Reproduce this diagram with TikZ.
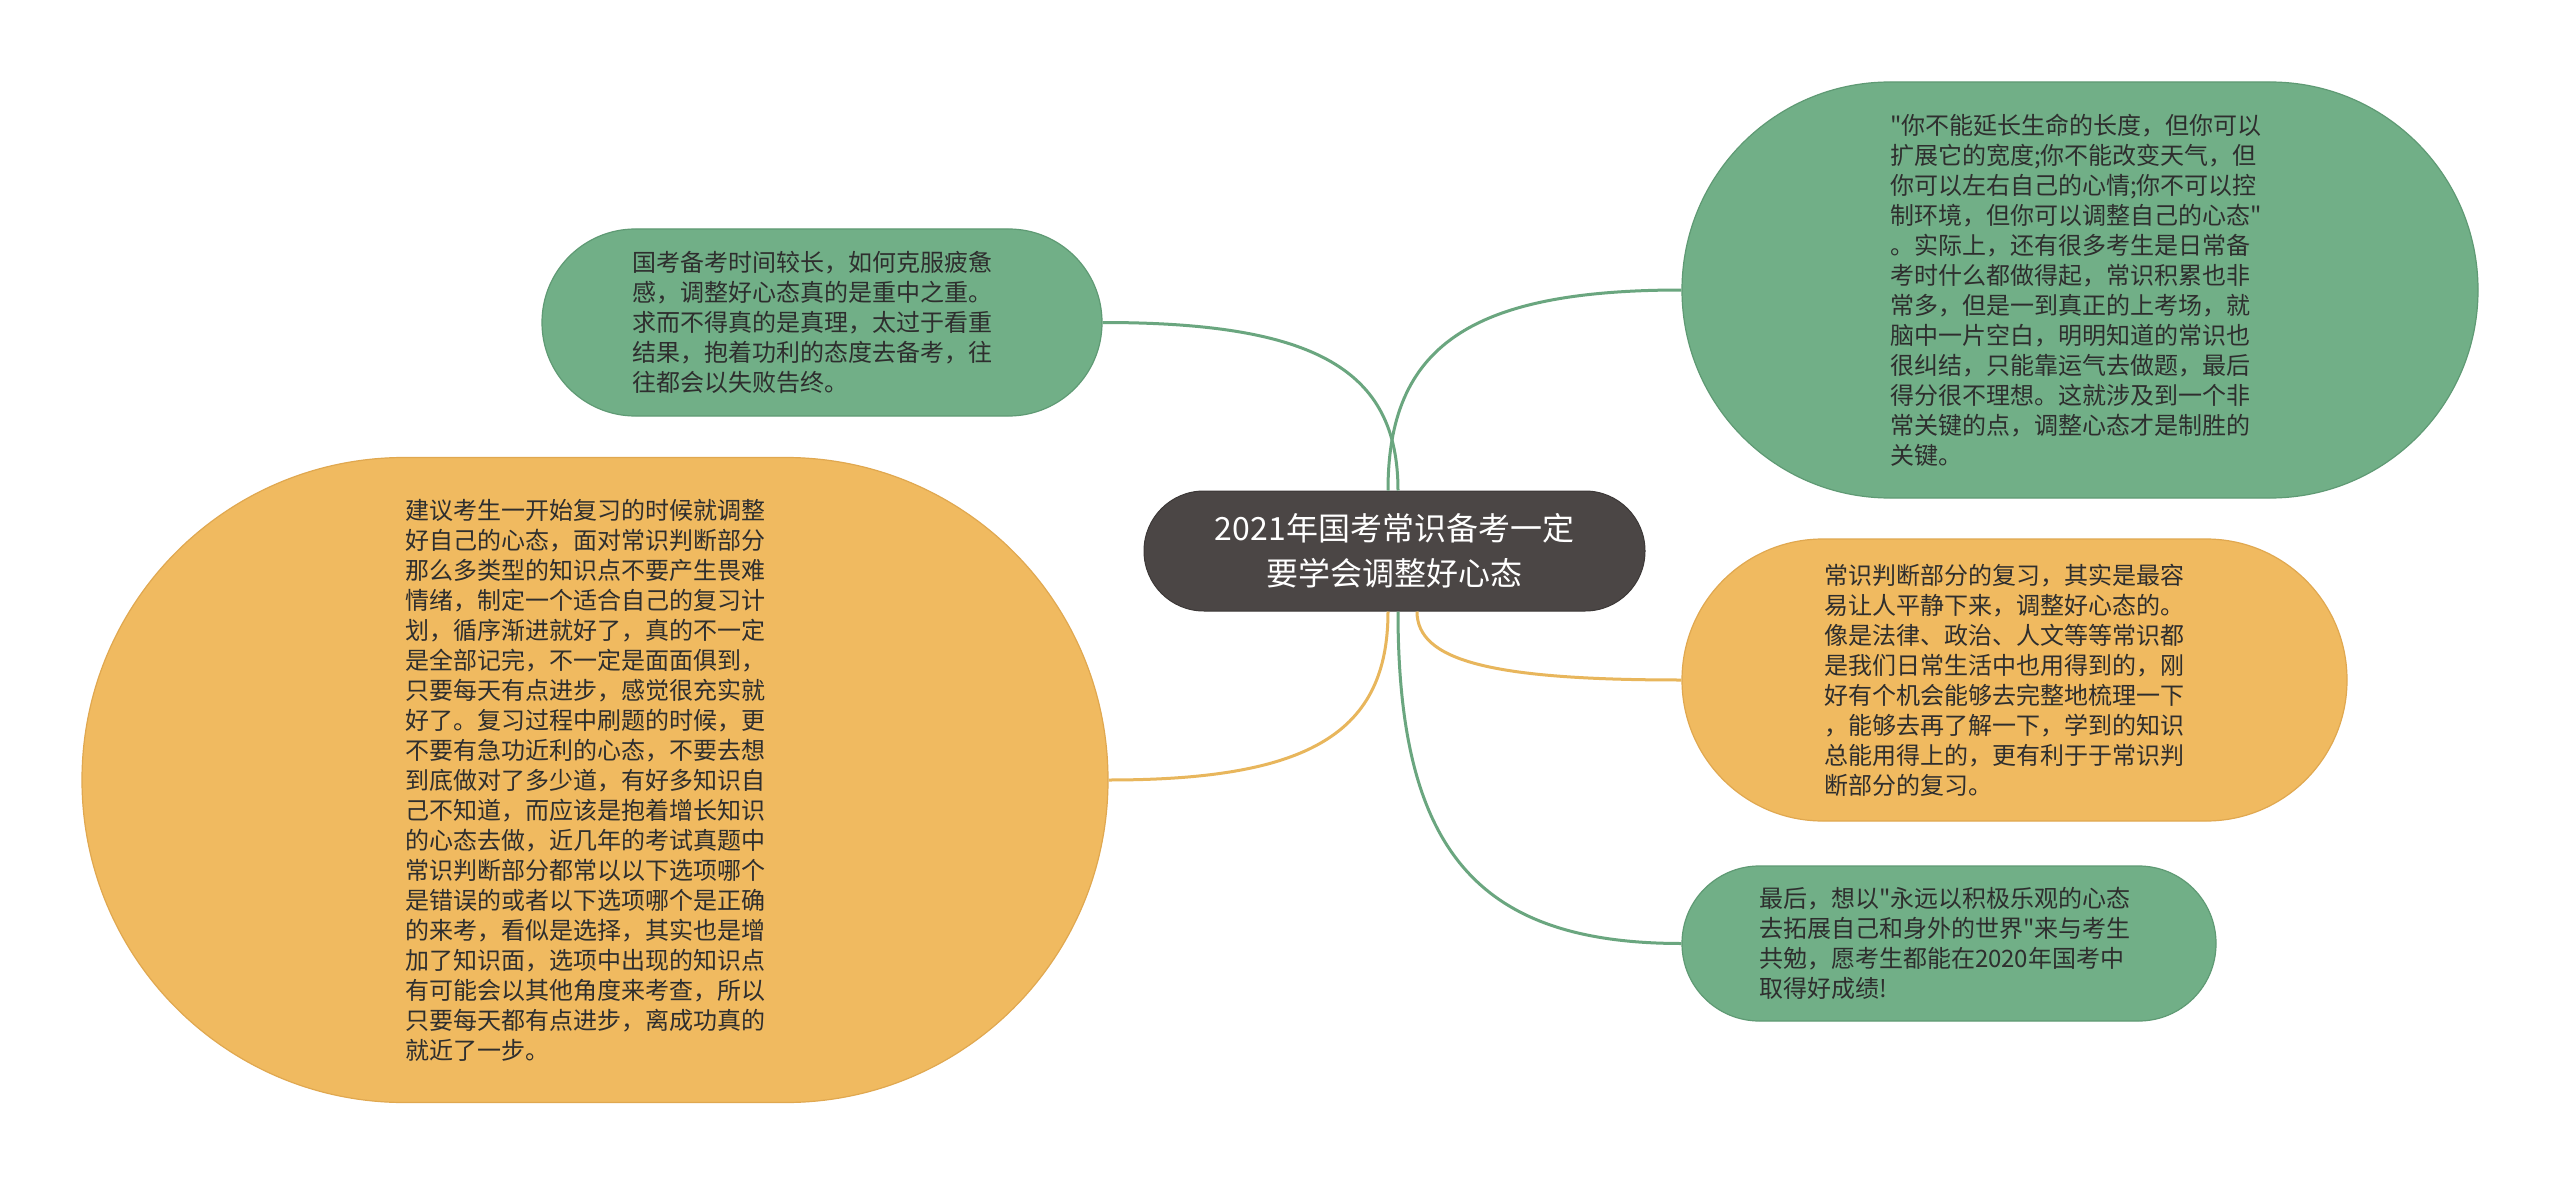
\documentclass[tikz,border=0pt]{standalone}
\usepackage{fontspec}
\setmainfont{Noto Sans CJK SC}[Ligatures=TeXOff]
\usetikzlibrary{calc}
\definecolor{gfill}{HTML}{71AF87}
\definecolor{gdraw}{HTML}{5F9A74}
\definecolor{ofill}{HTML}{F0BA60}
\definecolor{odraw}{HTML}{E0A850}
\definecolor{rootfill}{HTML}{4B4645}
\definecolor{gline}{HTML}{6AA67F}
\definecolor{oline}{HTML}{E8B65C}
\definecolor{txt}{HTML}{2E2E2E}
\tikzset{
  leaf/.style={inner sep=0pt, text width=380pt, align=left, text=txt,
    font=\fontsize{24pt}{30pt}\selectfont, line width=1.2pt},
  gleaf/.style={leaf, fill=gfill, draw=gdraw},
  oleaf/.style={leaf, fill=ofill, draw=odraw},
  rootbox/.style={inner sep=0pt, fill=rootfill, draw=rootfill!80!black, line width=1pt,
    text=white, align=center, font=\fontsize{32pt}{45pt}\selectfont,
    minimum width=501pt, minimum height=120pt, rounded corners=59.9pt},
  glink/.style={draw=gline, line width=3pt},
  olink/.style={draw=oline, line width=3pt}
}
\begin{document}
\begin{tikzpicture}[x=1pt,y=-1pt]
\useasboundingbox (0,0) rectangle (2560,1185);
\fill[white] (0,0) rectangle (2560,1185);

\node[rootbox] (root) at (1394.5,551) {2021年国考常识备考一定\\要学会调整好心态};

\node[gleaf, minimum width=560pt, minimum height=187pt, rounded corners=93.4pt] (n1) at (822,322.5)
{国考备考时间较长，如何克服疲惫\\感，调整好心态真的是重中之重。\\求而不得真的是真理，太过于看重\\结果，抱着功利的态度去备考，往\\往都会以失败告终。};

\node[oleaf, minimum width=1026pt, minimum height=645pt, rounded corners=322.4pt] (n2) at (595,780)
{建议考生一开始复习的时候就调整\\好自己的心态，面对常识判断部分\\那么多类型的知识点不要产生畏难\\情绪，制定一个适合自己的复习计\\划，循序渐进就好了，真的不一定\\是全部记完，不一定是面面俱到，\\只要每天有点进步，感觉很充实就\\好了。复习过程中刷题的时候，更\\不要有急功近利的心态，不要去想\\到底做对了多少道，有好多知识自\\己不知道，而应该是抱着增长知识\\的心态去做，近几年的考试真题中\\常识判断部分都常以以下选项哪个\\是错误的或者以下选项哪个是正确\\的来考，看似是选择，其实也是增\\加了知识面，选项中出现的知识点\\有可能会以其他角度来考查，所以\\只要每天都有点进步，离成功真的\\就近了一步。};

\node[gleaf, minimum width=796pt, minimum height=416pt, rounded corners=207.9pt] (n3) at (2080,290)
{"你不能延长生命的长度，但你可以\\扩展它的宽度;你不能改变天气，但\\你可以左右自己的心情;你不可以控\\制环境，但你可以调整自己的心态"\\。实际上，还有很多考生是日常备\\考时什么都做得起，常识积累也非\\常多，但是一到真正的上考场，就\\脑中一片空白，明明知道的常识也\\很纠结，只能靠运气去做题，最后\\得分很不理想。这就涉及到一个非\\常关键的点，调整心态才是制胜的\\关键。};

\node[oleaf, minimum width=665pt, minimum height=282pt, rounded corners=140.9pt] (n4) at (2014.5,680)
{常识判断部分的复习，其实是最容\\易让人平静下来，调整好心态的。\\像是法律、政治、人文等等常识都\\是我们日常生活中也用得到的，刚\\好有个机会能够去完整地梳理一下\\，能够去再了解一下，学到的知识\\总能用得上的，更有利于于常识判\\断部分的复习。};

\node[gleaf, minimum width=534pt, minimum height=155pt, rounded corners=77.4pt] (n5) at (1949,943.5)
{最后，想以"永远以积极乐观的心态\\去拓展自己和身外的世界"来与考生\\共勉，愿考生都能在2020年国考中\\取得好成绩!};

\coordinate (rt1) at ($(root.north)+(3.5,0)$);
\coordinate (rt2) at ($(root.north)+(-6.5,0)$);
\coordinate (rb1) at ($(root.south)+(-6.5,0)$);
\coordinate (rb2) at ($(root.south)+(3.5,0)$);
\coordinate (rb3) at ($(root.south)+(22.5,0)$);

\coordinate (k1) at (rt1 |- n1.east);
\coordinate (k2) at (rb1 |- n2.east);
\coordinate (k3) at (rt2 |- n3.west);
\coordinate (k4) at (rb3 |- n4.west);
\coordinate (k5) at (rb2 |- n5.west);

\draw[glink] (n1.east) .. controls ($(n1.east)!0.72!(k1)$) and ($(rt1)!0.72!(k1)$) .. (rt1);
\draw[olink] (n2.east) .. controls ($(n2.east)!0.72!(k2)$) and ($(rb1)!0.72!(k2)$) .. (rb1);
\draw[glink] (n3.west) .. controls ($(n3.west)!0.72!(k3)$) and ($(rt2)!0.72!(k3)$) .. (rt2);
\draw[olink] (n4.west) .. controls ($(n4.west)!0.72!(k4)$) and ($(rb3)!0.72!(k4)$) .. (rb3);
\draw[glink] (n5.west) .. controls ($(n5.west)!0.72!(k5)$) and ($(rb2)!0.72!(k5)$) .. (rb2);
\end{tikzpicture}
\end{document}
